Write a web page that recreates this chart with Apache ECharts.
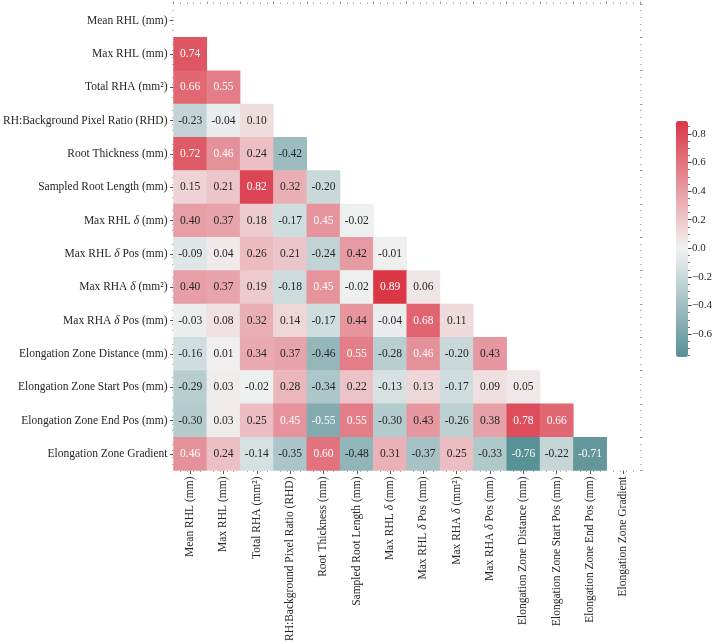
<!DOCTYPE html>
<html>
<head>
<meta charset="utf-8">
<script src="https://cdn.jsdelivr.net/npm/echarts@6/dist/echarts.min.js"></script>
<style>html,body{margin:0;padding:0;background:#fff;}#c{width:716px;height:644px;}</style>
</head>
<body>
<div id="c"></div>
<script>
const variables = [
  'Mean RHL (mm)', 'Max RHL (mm)', 'Total RHA (mm²)', 'RH:Background Pixel Ratio (RHD)',
  'Root Thickness (mm)', 'Sampled Root Length (mm)', 'Max RHL δ (mm)', 'Max RHL δ Pos (mm)',
  'Max RHA δ (mm²)', 'Max RHA δ Pos (mm)', 'Elongation Zone Distance (mm)',
  'Elongation Zone Start Pos (mm)', 'Elongation Zone End Pos (mm)', 'Elongation Zone Gradient'
];
// lower triangle (row i has values for columns 0..i-1)
const row0 = [];
const row1 = [0.74];
const row2 = [0.66, 0.55];
const row3 = [-0.23, -0.04, 0.10];
const row4 = [0.72, 0.46, 0.24, -0.42];
const row5 = [0.15, 0.21, 0.82, 0.32, -0.20];
const row6 = [0.40, 0.37, 0.18, -0.17, 0.45, -0.02];
const row7 = [-0.09, 0.04, 0.26, 0.21, -0.24, 0.42, -0.01];
const row8 = [0.40, 0.37, 0.19, -0.18, 0.45, -0.02, 0.89, 0.06];
const row9 = [-0.03, 0.08, 0.32, 0.14, -0.17, 0.44, -0.04, 0.68, 0.11];
const row10 = [-0.16, 0.01, 0.34, 0.37, -0.46, 0.55, -0.28, 0.46, -0.20, 0.43];
const row11 = [-0.29, 0.03, -0.02, 0.28, -0.34, 0.22, -0.13, 0.13, -0.17, 0.09, 0.05];
const row12 = [-0.30, 0.03, 0.25, 0.45, -0.55, 0.55, -0.30, 0.43, -0.26, 0.38, 0.78, 0.66];
const row13 = [0.46, 0.24, -0.14, -0.35, 0.60, -0.48, 0.31, -0.37, 0.25, -0.33, -0.76, -0.22, -0.71];
const corrRows = [row0,row1,row2,row3,row4,row5,row6,row7,row8,row9,row10,row11,row12,row13];
const colorbarTicks = [-0.6, -0.4, -0.2, 0.0, 0.2, 0.4, 0.6, 0.8];

const FONT = '"Liberation Serif", "DejaVu Serif", serif';
const vmin = -0.76, vmax = 0.89;
const vrange = Math.max(vmax, -vmin);
const NEG = [62, 128, 134], MID = [242, 242, 242], POS = [218, 54, 70];
function cmap(v) {
  const t = Math.max(-1, Math.min(1, v / vrange));
  const end = t < 0 ? NEG : POS, a = Math.abs(t);
  return MID.map((m, k) => Math.round(m + (end[k] - m) * a));
}
function rgbStr(c) { return 'rgb(' + c.join(',') + ')'; }
function lum(c) {
  const f = x => { x /= 255; return x <= 0.03928 ? x / 12.92 : Math.pow((x + 0.055) / 1.055, 2.4); };
  return 0.2126 * f(c[0]) + 0.7152 * f(c[1]) + 0.0722 * f(c[2]);
}
const ramp = [];
for (let k = 0; k <= 40; k++) ramp.push(rgbStr(cmap(vmin + (vmax - vmin) * k / 40)));

const cells = [];
corrRows.forEach((row, i) => row.forEach((v, j) => {
  const c = cmap(v);
  cells.push({ value: [j, i, v], label: { color: lum(c) > 0.404 ? '#262626' : '#ffffff' } });
}));

const fmtLabel = s => s.replace(/δ/g, '{i|δ}');
const richLab = { i: { fontStyle: 'italic', fontFamily: FONT, fontSize: 11.5, color: '#262626' } };
const minorCb = [];
for (let k = -15; k <= 17; k++) { if (k % 4 !== 0) minorCb.push(+(k * 0.05).toFixed(2)); }

const chart = echarts.init(document.getElementById('c'), null, { renderer: 'canvas' });
const frameTick = { show: true, length: 2.5, lineStyle: { color: '#999', width: 1 } };
const frameMinor = { show: true, splitNumber: 5, length: 1.5, lineStyle: { color: '#aaa', width: 1 } };
const hiddenLine = { show: false, onZero: false };
chart.setOption({
  backgroundColor: '#fff',
  animation: false,
  grid: [
    { left: 170, top: 4, width: 470, height: 469 },
    { left: 676, top: 121, width: 12, height: 236 }
  ],
  xAxis: [
    { type: 'category', gridIndex: 0, data: variables, position: 'bottom',
      axisLine: hiddenLine, splitLine: { show: false },
      axisTick: { show: true, alignWithLabel: true, length: 3.5, lineStyle: { color: '#555' } },
      axisLabel: { rotate: 90, margin: 6, fontFamily: FONT, fontSize: 11.5, color: '#262626', interval: 0,
        formatter: fmtLabel, rich: richLab } },
    { type: 'value', gridIndex: 0, position: 'top', min: 0, max: 14, interval: 1,
      axisLine: hiddenLine, splitLine: { show: false }, axisLabel: { show: false },
      axisTick: frameTick, minorTick: frameMinor },
    { type: 'value', gridIndex: 0, position: 'bottom', min: 0, max: 14, interval: 1,
      axisLine: hiddenLine, splitLine: { show: false }, axisLabel: { show: false },
      axisTick: { show: false }, minorTick: frameMinor },
    { type: 'value', gridIndex: 1, show: false, min: 0, max: 1, axisLine: hiddenLine }
  ],
  yAxis: [
    { type: 'category', gridIndex: 0, data: variables, inverse: true, position: 'left',
      axisLine: hiddenLine, splitLine: { show: false },
      axisTick: { show: true, alignWithLabel: true, length: 3.5, lineStyle: { color: '#555' } },
      axisLabel: { margin: 6, fontFamily: FONT, fontSize: 11.5, color: '#262626', interval: 0,
        formatter: fmtLabel, rich: richLab } },
    { type: 'value', gridIndex: 0, position: 'right', min: 0, max: 14, interval: 1,
      axisLine: hiddenLine, splitLine: { show: false }, axisLabel: { show: false },
      axisTick: frameTick, minorTick: frameMinor },
    { type: 'value', gridIndex: 0, position: 'left', min: 0, max: 14, interval: 1,
      axisLine: hiddenLine, splitLine: { show: false }, axisLabel: { show: false },
      axisTick: { show: false }, minorTick: frameMinor },
    { type: 'value', gridIndex: 1, position: 'right', min: vmin, max: vmax,
      axisLine: hiddenLine, splitLine: { show: false },
      axisTick: { show: true, length: 3.5, customValues: colorbarTicks, lineStyle: { color: '#444' } },
      axisLabel: { show: true, margin: 4, customValues: colorbarTicks, fontFamily: FONT, fontSize: 11, color: '#262626',
        formatter: v => (v < -1e-9 ? '−' : '') + Math.abs(v).toFixed(1) } },
    { type: 'value', gridIndex: 1, position: 'right', min: vmin, max: vmax,
      axisLine: hiddenLine, splitLine: { show: false }, axisLabel: { show: false },
      axisTick: { show: true, length: 2, customValues: minorCb, lineStyle: { color: '#777' } } }
  ],
  visualMap: {
    type: 'continuous', min: vmin, max: vmax, dimension: 2, seriesIndex: 0,
    calculable: false, left: 676, top: 121, itemWidth: 12, itemHeight: 236, padding: 0,
    text: ['', ''], showLabel: false, hoverLink: false,
    inRange: { color: ramp }
  },
  series: [{
    type: 'heatmap', xAxisIndex: 0, yAxisIndex: 0, data: cells,
    label: { show: true, fontFamily: FONT, fontSize: 11.5,
      formatter: p => p.value[2].toFixed(2) },
    itemStyle: { borderWidth: 0 },
    emphasis: { disabled: true }
  }]
});
</script>
</body>
</html>
